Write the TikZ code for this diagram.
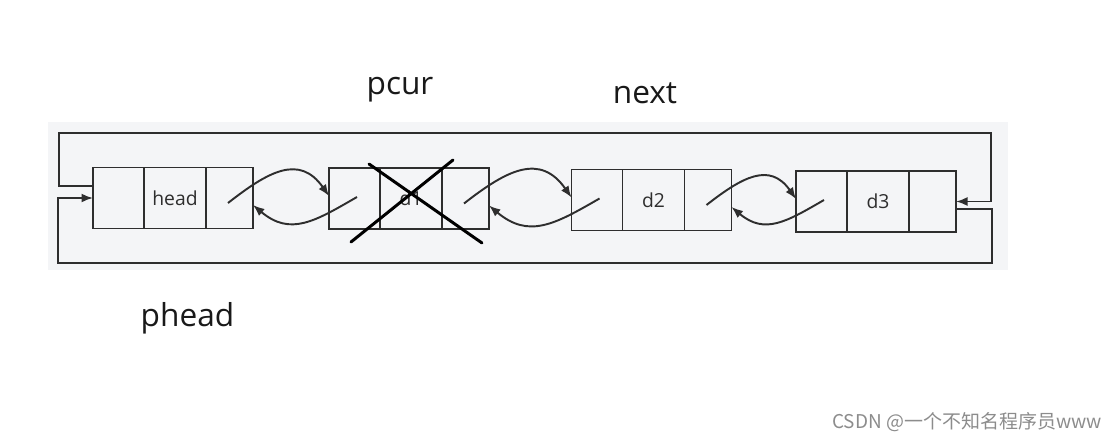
\documentclass[tikz,border=0pt]{standalone}
\usepackage{fontspec}
\setmainfont{Open Sans}
\newfontfamily\cjkfont{Noto Sans CJK SC}
\usetikzlibrary{positioning,arrows.meta}
\definecolor{bgpanel}{HTML}{F4F5F7}
\definecolor{inkline}{HTML}{2E2E2E}

\begin{document}
\begin{tikzpicture}[transform shape,
	prevcell/.style={shape=rectangle, draw=inkline, line width=1.1pt, outer sep=0pt, inner sep=0pt, minimum width=1.02cm, minimum height=1.22cm},
	datacell/.style={prevcell, minimum width=1.24cm, font=\fontsize{11}{13}\selectfont, text=inkline},
	nextcell/.style={prevcell, minimum width=0.94cm},
	link/.style={line width=1.1pt, draw=inkline, -{Latex[length=2.3mm, width=1.8mm]}},
	ptrlabel/.style={anchor=base, font=\fontsize{18}{21}\selectfont, text=black!90}]
	\useasboundingbox (0,0) rectangle (22.32,-8.84);
	\fill[bgpanel] (0.96,-2.44) rectangle (20.16,-5.40);
	\node[prevcell] (hp) at (2.37,-3.96){};
	\node[datacell, right=0pt of hp] (hd){head};
	\node[nextcell, right=0pt of hd] (hn){};
	\node[prevcell] (p1) at (7.09,-3.97){};
	\node[datacell, right=0pt of p1] (v1){d1};
	\node[nextcell, right=0pt of v1] (n1){};
	\node[prevcell] (p2) at (11.94,-4.00){};
	\node[datacell, right=0pt of p2] (v2){d2};
	\node[nextcell, right=0pt of v2] (n2){};
	\node[prevcell] (p3) at (16.43,-4.03){};
	\node[datacell, right=0pt of p3] (v3){d3};
	\node[nextcell, right=0pt of v3] (n3){};
	\draw[link] ([xshift=-0.03cm, yshift=-0.1cm]hn.center) to[out=38, in=125, looseness=1.3] ([yshift=0.05cm]p1.west);
	\draw[link] ([xshift=0.05cm, yshift=0.03cm]p1.center) to[out=210, in=-40, looseness=1.2] ([yshift=-0.14cm]hn.east);
	\draw[link] ([xshift=-0.03cm, yshift=-0.1cm]n1.center) to[out=38, in=125, looseness=1.3] ([yshift=0.05cm]p2.west);
	\draw[link] ([xshift=0.05cm, yshift=0.03cm]p2.center) to[out=210, in=-40, looseness=1.2] ([yshift=-0.14cm]n1.east);
	\draw[link] ([xshift=-0.03cm, yshift=-0.1cm]n2.center) to[out=38, in=125, looseness=1.3] ([yshift=0.05cm]p3.west);
	\draw[link] ([xshift=0.05cm, yshift=0.03cm]p3.center) to[out=210, in=-40, looseness=1.2] ([yshift=-0.14cm]n2.east);
	\coordinate (ltl) at (1.18,-2.66);
	\coordinate (ltr) at (19.82,-2.66);
	\coordinate (lbr) at (19.84,-5.26);
	\coordinate (lbl) at (1.16,-5.26);
	\draw[link] ([yshift=0.24cm]hp.west) -| (ltl) -- (ltr) |- (n3.east);
	\draw[link] ([yshift=-0.15cm]n3.east) -| (lbr) -- (lbl) |- (hp.west);
	\draw[line width=1.7pt, line cap=round] (7.38,-3.28) -- (9.64,-4.86);
	\draw[line width=1.7pt, line cap=round] (9.06,-3.20) -- (7.02,-4.84);
	\node[ptrlabel] (pcur) at (8.0,-1.90){pcur};
	\node[ptrlabel] (next) at (12.9,-2.08){next};
	\node[ptrlabel] (phead) at (3.75,-6.52){phead};
	\node[anchor=base, font=\cjkfont\fontsize{10.8}{13}\selectfont, text=black!45] (mark) at (19.34,-8.56){CSDN @一个不知名程序员www};
\end{tikzpicture}
\end{document}
